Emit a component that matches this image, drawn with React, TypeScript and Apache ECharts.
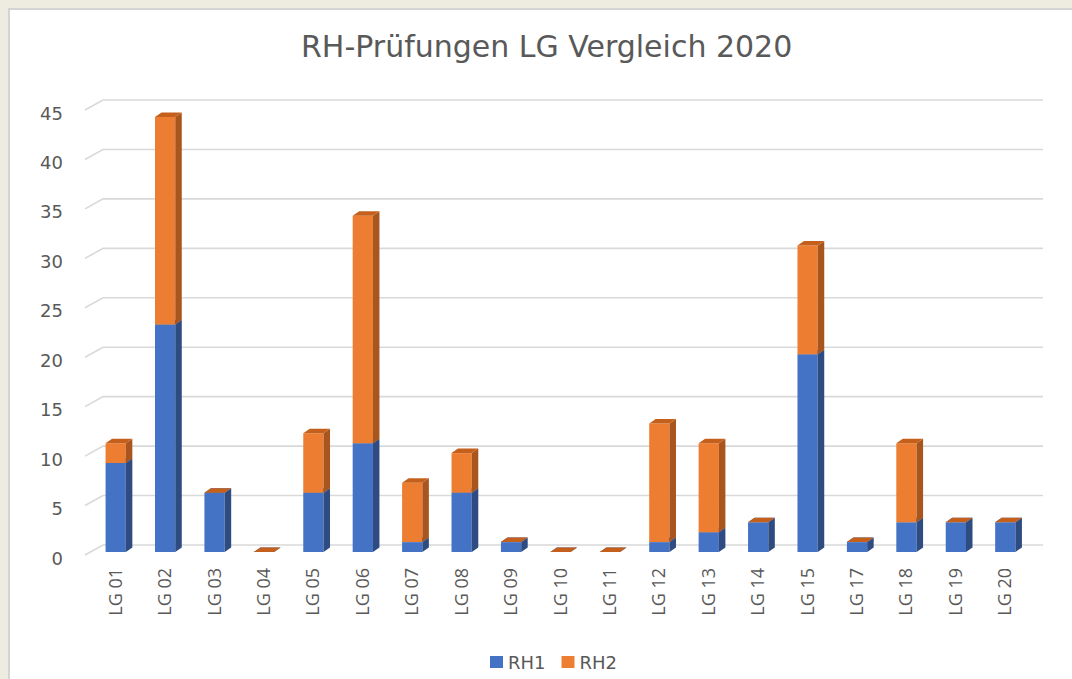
import React, { useEffect, useRef } from "react";
import * as echarts from "echarts";

const categories = [
  "LG 01", "LG 02", "LG 03", "LG 04", "LG 05", "LG 06", "LG 07", "LG 08", "LG 09", "LG 10",
  "LG 11", "LG 12", "LG 13", "LG 14", "LG 15", "LG 17", "LG 18", "LG 19", "LG 20",
];
const rh1 = [9, 23, 6, 0, 6, 11, 1, 6, 1, 0, 0, 1, 2, 3, 20, 1, 3, 3, 3];
const rh2 = [2, 21, 0, 0, 6, 23, 6, 4, 0, 0, 0, 12, 9, 0, 11, 0, 8, 0, 0];
const yTicks = [0, 5, 10, 15, 20, 25, 30, 35, 40, 45];

const COLORS = {
  RH1: { front: "#4472C4", side: "#2E4B82", top: "#3A62A8" },
  RH2: { front: "#ED7D31", side: "#A8551E", top: "#C5601C" },
};
const FONT = "'Open Sans', 'Noto Sans', sans-serif";
const WIDE = "'DejaVu Sans', sans-serif";
const TEXT = "#595959";

function barRender(colors: { front: string; side: string; top: string }) {
  return (params: any, api: any) => {
    const i = api.value(0);
    const base = api.value(1);
    const val = api.value(2);
    const p0 = api.coord([i, base]);
    const p1 = api.coord([i, base + val]);
    const bw = api.size([1, 0])[0] * 0.41;
    const xl = p0[0] - bw / 2 + 1;
    const xr = xl + bw;
    const yb = p0[1];
    const yt = p1[1];
    const dx = 6.5;
    const dy = -4.5;
    const children: any[] = [];
    if (yb - yt > 0.1) {
      children.push({
        type: "rect",
        shape: { x: xl, y: yt, width: bw, height: yb - yt },
        style: { fill: colors.front },
      });
      children.push({
        type: "polygon",
        shape: { points: [[xr, yt], [xr + dx, yt + dy], [xr + dx, yb + dy], [xr, yb]] },
        style: { fill: colors.side },
      });
    }
    children.push({
      type: "polygon",
      shape: { points: [[xl, yt], [xl + dx, yt + dy], [xr + dx, yt + dy], [xr, yt]] },
      style: { fill: colors.top },
    });
    return { type: "group", children };
  };
}

function gridRender(params: any, api: any) {
  const v = api.value(1);
  const y = api.coord([0, v])[1];
  const cs = params.coordSys;
  return {
    type: "polyline",
    shape: {
      points: [
        [cs.x - 5, y + 3],
        [cs.x + 13, y - 7],
        [cs.x + cs.width + 14, y - 7],
      ],
    },
    style: { stroke: "#D9D9D9", lineWidth: 1.6, fill: "none" },
  };
}

export default function App() {
  const ref = useRef<HTMLDivElement>(null);
  useEffect(() => {
    if (!ref.current) return;
    const chart = echarts.init(ref.current, null, { renderer: "svg" });
    const rh1Data = categories.map((_, i) => [i, 0, rh1[i]]);
    const rh2Data = categories.map((_, i) => [i, rh1[i], rh2[i]]);
    chart.setOption({
      animation: false,
      backgroundColor: "#EEECE1",
      color: [COLORS.RH1.front, COLORS.RH2.front],
      graphic: [
        {
          type: "rect",
          z: -10,
          silent: true,
          shape: { x: 9, y: 9, width: 1080, height: 690 },
          style: { fill: "#FFFFFF", stroke: "#D4D4D4", lineWidth: 2 },
        },
      ],
      title: {
        text: "RH-Prüfungen LG Vergleich 2020",
        left: 296,
        top: 26,
        textStyle: { fontFamily: WIDE, fontSize: 30, fontWeight: "normal", color: TEXT },
      },
      legend: {
        data: ["RH1", "RH2"],
        left: 485,
        top: 648,
        icon: "rect",
        itemWidth: 13,
        itemHeight: 12,
        itemGap: 16,
        textStyle: { fontFamily: WIDE, fontSize: 18, color: TEXT },
      },
      grid: { left: 90, right: 43, top: 107, bottom: 127 },
      xAxis: {
        type: "category",
        data: categories,
        axisLine: { show: false },
        axisTick: { show: false },
        axisLabel: {
          rotate: 90,
          margin: 16,
          interval: 0,
          fontFamily: FONT,
          fontSize: 18,
          color: TEXT,
        },
      },
      yAxis: {
        type: "value",
        min: 0,
        max: 45,
        interval: 5,
        axisLine: { show: false },
        axisTick: { show: false },
        splitLine: { show: false },
        axisLabel: {
          margin: 27,
          verticalAlign: "top",
          lineHeight: 12,
          fontFamily: WIDE,
          fontSize: 18,
          color: TEXT,
        },
      },
      series: [
        {
          type: "custom",
          name: "grid",
          silent: true,
          z: 1,
          data: yTicks.map((v) => [0, v]),
          encode: { x: 0, y: 1 },
          renderItem: gridRender,
        },
        {
          type: "custom",
          name: "RH1",
          z: 3,
          itemStyle: { color: COLORS.RH1.front },
          data: rh1Data,
          encode: { x: 0, y: 2 },
          renderItem: barRender(COLORS.RH1),
        },
        {
          type: "custom",
          name: "RH2",
          z: 4,
          itemStyle: { color: COLORS.RH2.front },
          data: rh2Data,
          encode: { x: 0, y: 2 },
          renderItem: barRender(COLORS.RH2),
        },
      ],
    });
    return () => chart.dispose();
  }, []);
  return (
    <div
      ref={ref}
      style={{ position: "fixed", left: 0, top: 0, width: 1072, height: 679 }}
    />
  );
}
